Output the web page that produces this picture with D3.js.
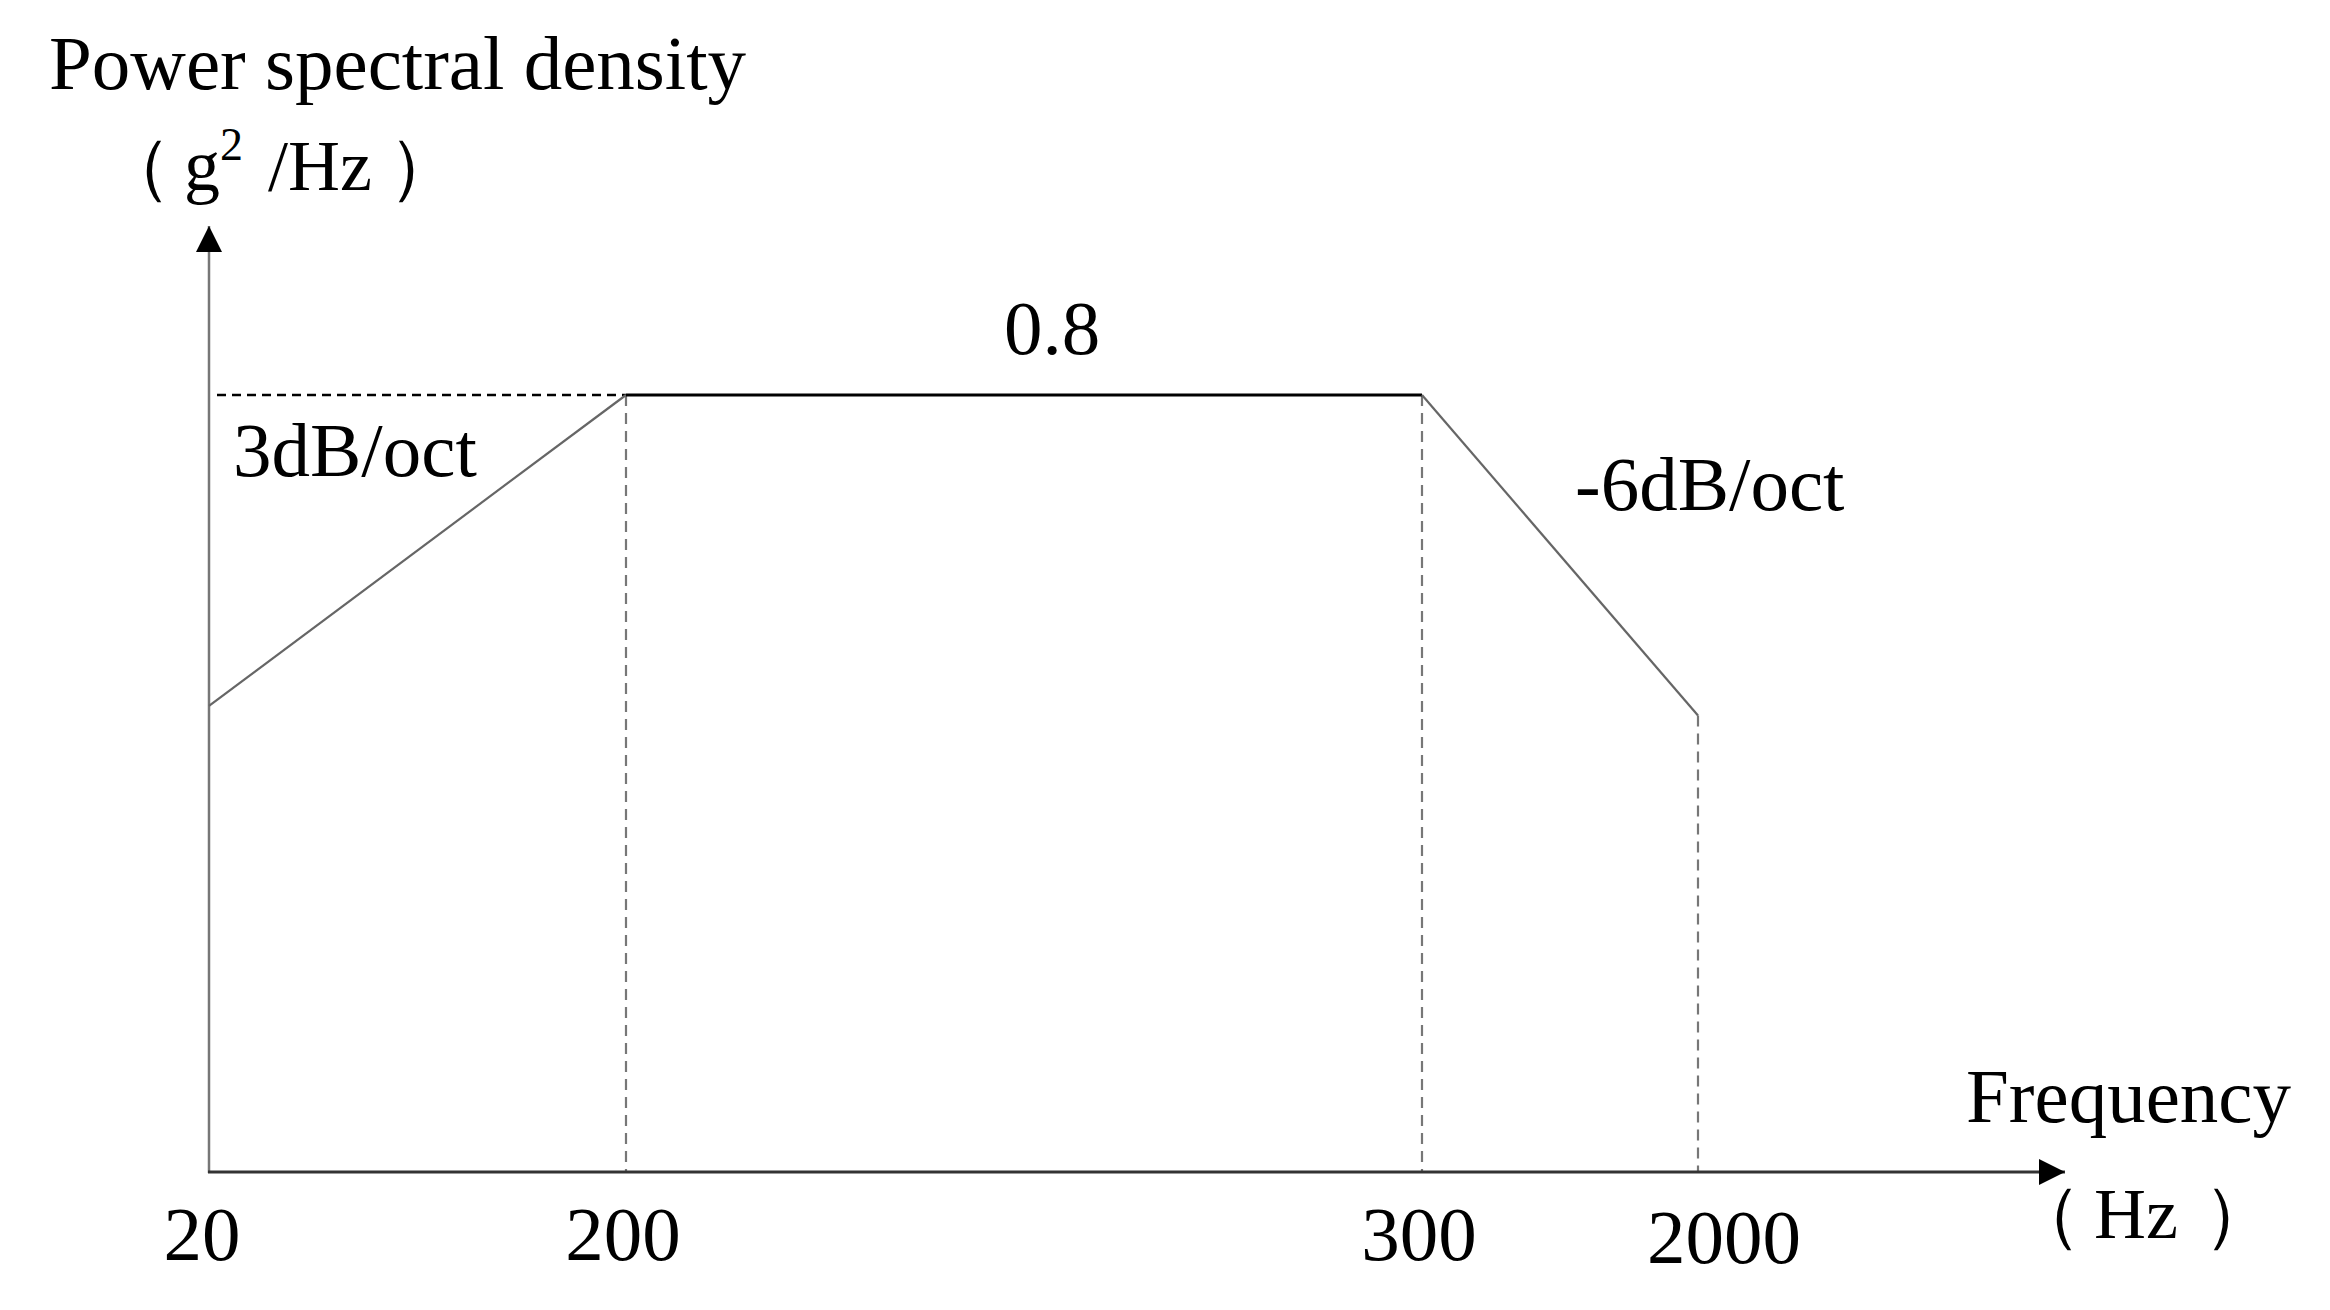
<!DOCTYPE html>
<html><head><meta charset="utf-8">
<script src="https://cdn.jsdelivr.net/npm/d3@7"></script>
<style>html,body{margin:0;padding:0;background:#fff;} svg{display:block;}</style>
</head><body>
<svg id="c" width="2330" height="1310"></svg>
<script>
// Data (schematic PSD profile)
const freqs = [20, 200, 300, 2000];
const psd = [0.48, 0.8, 0.8, 0.47];
const tickLabels = ["20", "200", "300", "2000"];
const plateauLabel = "0.8";
const slopeLabels = ["3dB/oct", "-6dB/oct"];
const yTitle = "Power spectral density";
const xTitle = "Frequency";

const svg = d3.select("#c");
const FONT = "'Liberation Serif','Times New Roman',serif";

// schematic piecewise x scale
const x = d3.scaleLinear().domain(freqs).range([209, 626, 1422, 1698]);
const xAxisEnd = 2065;
const y = d3.scaleLinear().domain([0, 0.8]).range([1172, 395]);
const yAxisTop = 226;

// arrow marker
const defs = svg.append("defs");
defs.append("marker").attr("id","arr").attr("viewBox","0 0 10 10")
  .attr("refX",10).attr("refY",5).attr("markerWidth",26).attr("markerHeight",26)
  .attr("markerUnits","userSpaceOnUse").attr("orient","auto")
  .append("path").attr("d","M0,0 L10,5 L0,10 Z").attr("fill","#000");

// guides
const g = svg.append("g");
g.append("line").attr("x1", x(20)+8).attr("x2", x(200)).attr("y1", y(0.8)).attr("y2", y(0.8))
  .attr("stroke","#000").attr("stroke-width",2.5).attr("stroke-dasharray","9,6");
g.selectAll("line.v").data(freqs.slice(1).map((f,i)=>({f, v: psd[i+1]}))).enter().append("line")
  .attr("class","v")
  .attr("x1", d=>x(d.f)).attr("x2", d=>x(d.f))
  .attr("y1", d=>y(d.v)).attr("y2", y(0))
  .attr("stroke","#777").attr("stroke-width",2.2).attr("stroke-dasharray","11,7");

// axes
svg.append("line").attr("x1", x(20)).attr("x2", x(20)).attr("y1", y(0)+1).attr("y2", yAxisTop)
  .attr("stroke","#777").attr("stroke-width",2.5).attr("marker-end","url(#arr)");
svg.append("line").attr("x1", x(20)-1).attr("x2", xAxisEnd).attr("y1", y(0)).attr("y2", y(0))
  .attr("stroke","#333").attr("stroke-width",3).attr("marker-end","url(#arr)");

// profile segments
const pts = freqs.map((f,i)=>[x(f), y(psd[i])]);
svg.append("line").attr("x1",pts[0][0]).attr("y1",pts[0][1]).attr("x2",pts[1][0]).attr("y2",pts[1][1])
  .attr("stroke","#666").attr("stroke-width",2.2);
svg.append("line").attr("x1",pts[1][0]).attr("y1",pts[1][1]).attr("x2",pts[2][0]).attr("y2",pts[2][1])
  .attr("stroke","#000").attr("stroke-width",3);
svg.append("line").attr("x1",pts[2][0]).attr("y1",pts[2][1]).attr("x2",pts[3][0]).attr("y2",pts[3][1])
  .attr("stroke","#666").attr("stroke-width",2.2);

function txt(s, px, py, anchor, size){
  return svg.append("text").attr("x",px).attr("y",py).attr("text-anchor",anchor||"start")
    .attr("font-family",FONT).attr("font-size",size||77).attr("fill","#000").text(s);
}

txt(yTitle, 49, 89);
// unit label with full-width parens
const u = svg.append("text").attr("y",190).attr("font-family",FONT).attr("font-size",72).attr("fill","#000");
u.append("tspan").attr("x",100).text("（");
u.append("tspan").attr("x",184).text("g");
u.append("tspan").attr("font-size",46).attr("dy",-30).text("2");
u.append("tspan").attr("x",268).attr("dy",30).text("/Hz");
u.append("tspan").attr("x",388).text("）");

txt(plateauLabel, (x(200)+x(300))/2 + 28, 354, "middle");
txt(slopeLabels[0], 233, 476);
txt(slopeLabels[1], 1575, 510);
txt(xTitle, 1966, 1122);
const hz = svg.append("text").attr("y",1238).attr("font-family",FONT).attr("font-size",72).attr("fill","#000");
hz.append("tspan").attr("x",2010).text("（");
hz.append("tspan").attr("x",2094).text("Hz");
hz.append("tspan").attr("x",2203).text("）");

// tick labels
svg.selectAll("text.tick").data(freqs).enter().append("text").attr("class","tick")
  .attr("x", (d,i)=> i===0 ? x(d)-7 : (i===3 ? x(d)+26 : x(d)-3))
  .attr("y", (d,i)=> i===3 ? 1263 : 1260)
  .attr("text-anchor","middle").attr("font-family",FONT).attr("font-size",77).attr("fill","#000")
  .text((d,i)=>tickLabels[i]);
</script>
</body></html>
